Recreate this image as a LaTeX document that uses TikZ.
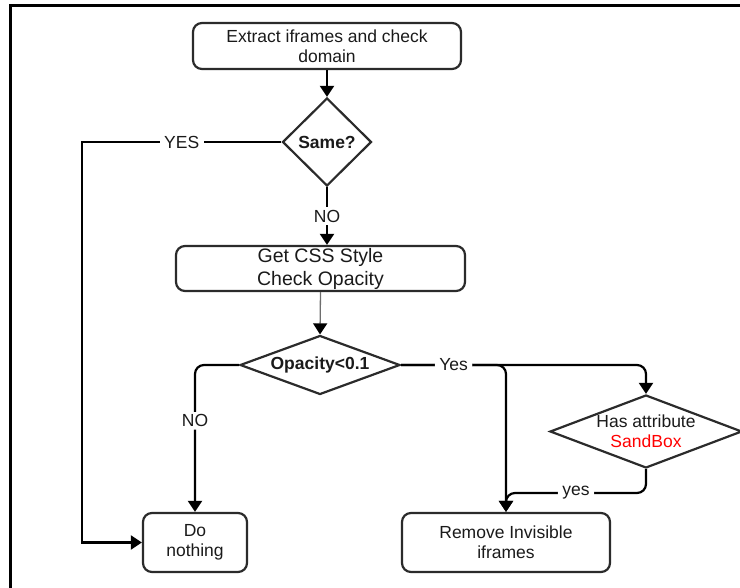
\documentclass[tikz,border=0pt]{standalone}
\usepackage{fontspec}
\setmainfont{Liberation Sans}
\usetikzlibrary{arrows.meta,shapes.geometric}
\definecolor{ink}{HTML}{1A1A1A}
\definecolor{edge}{HTML}{2B2B2B}
\definecolor{thinline}{HTML}{6E6E6E}
\begin{document}
\begin{tikzpicture}[x=1pt,y=-1pt,
  every node/.style={text=ink},
  box/.style={draw=edge, line width=2.2pt, rounded corners=9pt, align=center,
    inner sep=0pt, font=\fontsize{17.5}{20}\selectfont},
  decision/.style={draw=edge, line width=2.2pt, diamond, inner sep=0pt},
  dtext/.style={align=center, inner sep=0pt, font=\fontsize{17.5}{20}\selectfont\bfseries},
  flow/.style={draw=black, line width=2.2pt, -{Triangle[length=11pt,width=14pt]}},
  tag/.style={fill=white, inner xsep=4.5pt, inner ysep=2.5pt, font=\fontsize{17.5}{20}\selectfont},
]
\useasboundingbox (0,0) rectangle (740,588);

% outer frame
\draw[line width=2.6pt] (10.5,600) -- (10.5,5.5) -- (760,5.5);

% process boxes and decisions
\node[box, minimum width=268pt, minimum height=46pt] (extract) at (327,46)
  {Extract iframes and check\\domain};
\node[decision, minimum width=89pt, minimum height=88pt] (same) at (327,142) {};
\node[dtext] (sametxt) at (same) {Same?};
\node[box, minimum width=289pt, minimum height=45pt,
  font=\fontsize{19.5}{23}\selectfont] (css) at (320.5,268.5)
  {Get CSS Style\\Check Opacity};
\node[decision, minimum width=160pt, minimum height=59pt] (opac) at (320,365) {};
\node[dtext] (opactxt) at (opac) {Opacity<0.1};
\node[decision, minimum width=192pt, minimum height=73pt] (sand) at (646,431.5) {};
\node[align=center, inner sep=0pt, font=\fontsize{17.5}{20}\selectfont] (sandtxt) at (sand)
  {Has attribute\\\textcolor{red}{SandBox}};
\node[box, minimum width=104pt, minimum height=59pt] (none) at (195,542.5)
  {Do\\nothing};
\node[box, minimum width=208pt, minimum height=59pt] (remove) at (506,542.5)
  {Remove Invisible\\iframes};

\coordinate (corner) at (82,142);
\coordinate (join) at (506,493);

% connectors
\draw[flow] (extract.south) -- (same.north);
\draw[flow] (same.west) -- node[tag]{YES} (corner) |- (none.west);
\draw[flow] (same.south) -- node[tag]{NO} (same.south |- css.north);
\draw[flow, draw=thinline, line width=1.3pt,
  -{Triangle[length=11pt,width=14pt,color=black]}] (css.south) -- (opac.north);
\draw[flow, rounded corners=9pt] (opac.west) -| node[tag, pos=0.69]{NO} (none.north);
\draw[flow, rounded corners=9pt] (opac.east) -| (sand.north);
\draw[flow, rounded corners=9pt] (opac.east) -- node[tag]{Yes}
  (remove.north |- opac.east) -- (remove.north);
\draw[flow, rounded corners=9pt] (sand.south) |- node[tag, pos=0.75]{yes} (join) -- (remove.north);
\end{tikzpicture}
\end{document}
